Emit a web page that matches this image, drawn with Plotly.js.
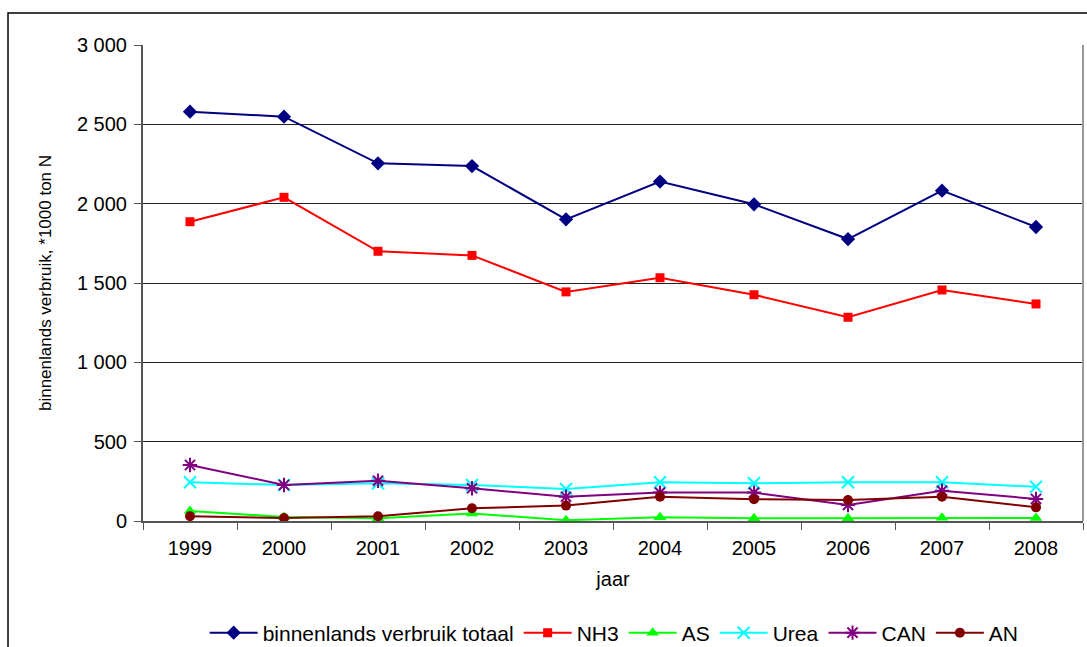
<!DOCTYPE html>
<html>
<head>
<meta charset="utf-8">
<script src="https://cdn.plot.ly/plotly-3.0.1.min.js"></script>
<style>
  html, body { margin: 0; padding: 0; background: #fff; }
  #chart { width: 1087px; height: 647px; }
</style>
</head>
<body>
<div id="chart"></div>
<script>
// Nitrogen fertiliser use in the Netherlands, *1000 ton N
const years = ['1999', '2000', '2001', '2002', '2003', '2004', '2005', '2006', '2007', '2008'];
const totaal = [2580, 2548, 2254, 2237, 1901, 2139, 1996, 1777, 2082, 1853];
const nh3    = [1886, 2040, 1700, 1674, 1444, 1533, 1426, 1284, 1456, 1368];
const as     = [63, 25, 17, 48, 5, 23, 17, 17, 21, 19];
const urea   = [244, 227, 238, 227, 202, 244, 238, 244, 244, 216];
const can    = [353, 227, 254, 206, 153, 179, 179, 101, 191, 139];
const an     = [30, 19, 30, 80, 97, 153, 137, 132, 153, 86];

const seriesDefs = [
  { name: 'binnenlands verbruik totaal', y: totaal, color: '#000080', symbol: 'diamond', size: 11 },
  { name: 'NH3',  y: nh3,  color: '#FF0000', symbol: 'square', size: 9 },
  { name: 'AS',   y: as,   color: '#00FF00', symbol: 'triangle-up', size: 11 },
  { name: 'Urea', y: urea, color: '#00FFFF', symbol: 'x-thin-open', size: 12, open: true },
  { name: 'CAN',  y: can,  color: '#800080', symbol: 'asterisk-open', size: 12, open: true },
  { name: 'AN',   y: an,   color: '#800000', symbol: 'circle', size: 10 }
];

const traces = seriesDefs.map(s => ({
  type: 'scatter',
  mode: 'lines+markers',
  name: s.name,
  x: years,
  y: s.y,
  line: { color: s.color, width: 2 },
  marker: {
    symbol: s.symbol,
    size: s.size,
    color: s.color,
    line: { color: s.color, width: s.open ? 2 : 0 }
  },
  cliponaxis: false
}));

const FAMILY = '"Liberation Sans", Arial, sans-serif';
const f = size => ({ family: FAMILY, size: size, color: '#000' });

const layout = {
  width: 1087,
  height: 647,
  margin: { l: 143, r: 4, t: 45, b: 126 },
  paper_bgcolor: '#fff',
  plot_bgcolor: '#fff',
  separators: ', ',
  font: f(20),
  showlegend: true,
  legend: {
    orientation: 'h',
    xref: 'container', yref: 'container',
    x: 0.565, xanchor: 'center',
    y: 0.0216, yanchor: 'middle',
    font: f(21),
    bgcolor: 'rgba(0,0,0,0)',
    itemwidth: 48,
    tracegroupgap: 0
  },
  xaxis: {
    type: 'category',
    range: [-0.5, 9.5],
    tickson: 'boundaries',
    ticks: 'outside',
    ticklen: 7,
    tickcolor: '#555',
    ticklabelstandoff: 8,
    showline: true,
    linecolor: '#555',
    linewidth: 2,
    showgrid: false,
    zeroline: false,
    automargin: false,
    tickfont: f(20),
    title: { text: 'jaar', font: f(20), standoff: 14 },
    fixedrange: true
  },
  yaxis: {
    range: [0, 3000],
    dtick: 500,
    tickformat: ',d',
    ticks: 'outside',
    ticklen: 7,
    tickcolor: '#555',
    ticklabelstandoff: 3,
    showline: true,
    linecolor: '#555',
    linewidth: 2,
    showgrid: true,
    gridcolor: '#222',
    gridwidth: 1,
    zeroline: false,
    automargin: false,
    tickfont: f(20),
    title: { text: 'binnenlands verbruik, *1000 ton N', font: f(17), standoff: 21 },
    fixedrange: true
  },
  shapes: [
    // plot area right edge
    { type: 'line', xref: 'paper', yref: 'paper', x0: 1, x1: 1, y0: 0, y1: 1,
      line: { color: '#999', width: 2 } },
    // outer chart frame
    { type: 'rect', xref: 'paper', yref: 'paper',
      x0: -0.1436, x1: 1.02, y0: -0.3, y1: 1.0672,
      line: { color: '#000', width: 1.5 }, fillcolor: 'rgba(0,0,0,0)', layer: 'below' }
  ]
};

Plotly.newPlot('chart', traces, layout, { displayModeBar: false, staticPlot: true });
</script>
</body>
</html>
